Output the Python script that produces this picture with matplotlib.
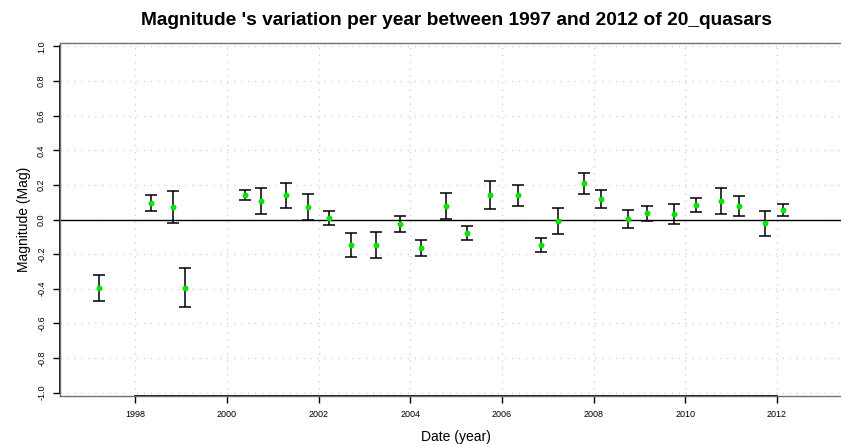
import numpy as np
import matplotlib.pyplot as plt
import matplotlib

matplotlib.rcParams['font.family'] = ['Liberation Sans', 'DejaVu Sans']
matplotlib.rcParams['axes.unicode_minus'] = False

# yearly magnitude variation of the quasar sample
years = [1997.21, 1998.34, 1998.83, 1999.09, 2000.39, 2000.75, 2001.28, 2001.78,
         2002.22, 2002.70, 2003.26, 2003.77, 2004.23, 2004.79, 2005.23, 2005.74,
         2006.35, 2006.86, 2007.23, 2007.80, 2008.16, 2008.75, 2009.17, 2009.75,
         2010.23, 2010.79, 2011.18, 2011.75, 2012.13]
mag = [-0.397, 0.094, 0.071, -0.393, 0.140, 0.106, 0.140, 0.071,
       0.008, -0.148, -0.148, -0.027, -0.166, 0.077, -0.079, 0.140,
       0.140, -0.148, -0.010, 0.210, 0.118, 0.002, 0.037, 0.031,
       0.083, 0.106, 0.077, -0.021, 0.054]
err = [0.076, 0.046, 0.092, 0.114, 0.029, 0.077, 0.071, 0.076,
       0.042, 0.070, 0.073, 0.047, 0.045, 0.076, 0.041, 0.080,
       0.061, 0.040, 0.074, 0.060, 0.054, 0.053, 0.043, 0.057,
       0.040, 0.075, 0.058, 0.072, 0.034]

xticks = [1998, 2000, 2002, 2004, 2006, 2008, 2010, 2012]
yticks = [-1.0, -0.8, -0.6, -0.4, -0.2, 0.0, 0.2, 0.4, 0.6, 0.8, 1.0]

W, H = 841, 446
fig = plt.figure(figsize=(W / 100, H / 100), dpi=100)
ax = fig.add_axes([60 / W, 50 / H, 792 / W, 353 / H])

ax.set_xlim(1996.36, 2013.64)
ax.set_ylim(-1.02, 1.02)

ax.set_xticks(xticks)
ax.set_xticklabels([str(t) for t in xticks])
ax.set_yticks(yticks)
ax.set_yticklabels(['%.1f' % t for t in yticks], rotation=90, va='center')
ax.tick_params(direction='out', length=5, width=1, color='black',
               labelsize=6.5, pad=5)

ax.grid(True, color='lightgray', linestyle=(0, (1, 4)), linewidth=1)
ax.set_axisbelow(True)

for side in ['top', 'bottom', 'left']:
    ax.spines[side].set_color('#707070')
    ax.spines[side].set_linewidth(1)
ax.spines['right'].set_visible(False)

# R style axis lines from first to last tick
y0 = ax.get_ylim()[0]
x0 = ax.get_xlim()[0]
ax.plot([xticks[0], xticks[-1]], [y0, y0], color='black', lw=1.3, clip_on=False)
ax.plot([x0, x0], [yticks[0], yticks[-1]], color='black', lw=1.3, clip_on=False)

ax.axhline(0, color='black', lw=1)

ax.errorbar(years, mag, yerr=err, fmt='none', ecolor='black',
            elinewidth=1.1, capsize=4.3, capthick=1.1)
ax.plot(years, mag, 'o', color='#00EE00', ms=3.2, mec='#00DD00')

cx = (60 + 852) / 2 / W
fig.text(cx, 1 - 25 / H, "Magnitude 's variation per year between 1997 and 2012 of 20_quasars",
         ha='center', va='baseline', fontsize=13.8, fontweight='bold')
fig.text(cx, 1 - 437 / H, 'Date (year)', ha='center', va='center', fontsize=10)
fig.text(24.5 / W, 1 - 219.5 / H, 'Magnitude (Mag)', ha='center', va='center',
         rotation=90, fontsize=10)

plt.savefig('out.png', dpi=100)
